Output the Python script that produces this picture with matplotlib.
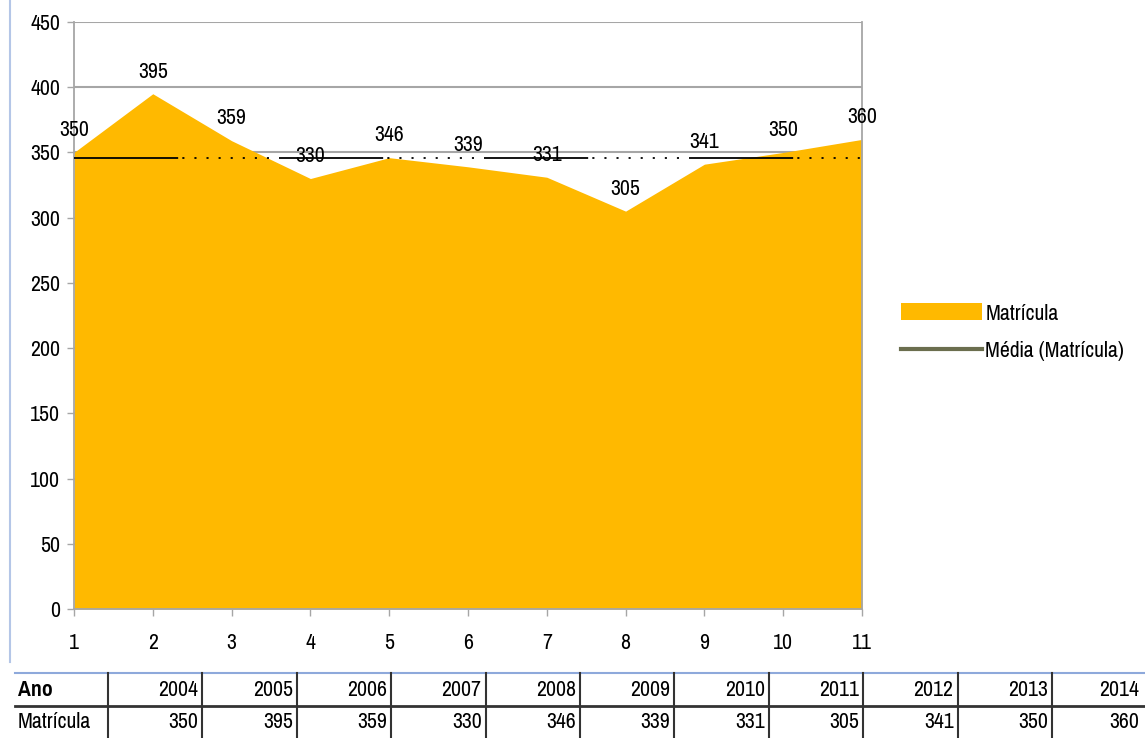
import numpy as np
import matplotlib
matplotlib.use("Agg")
import matplotlib.pyplot as plt
from matplotlib.lines import Line2D
from matplotlib.patches import Patch

plt.rcParams['font.family'] = ['Pragati Narrow', 'DejaVu Sans']
plt.rcParams['lines.scale_dashes'] = False

# data
pontos = [1, 2, 3, 4, 5, 6, 7, 8, 9, 10, 11]
anos = [2004, 2005, 2006, 2007, 2008, 2009, 2010, 2011, 2012, 2013, 2014]
matricula = [350, 395, 359, 330, 346, 339, 331, 305, 341, 350, 360]

media = np.mean(matricula)
laranja = '#FFB900'
cinza = '#A6A6A6'
fs = 17

W, H = 1145, 738
fig = plt.figure(figsize=(W / 100, H / 100), dpi=100)
ax = fig.add_axes([74 / W, 1 - 609 / H, (862 - 74) / W, (609 - 22) / H])

# area series
ax.fill_between(pontos, matricula, 0, color=laranja, lw=0, zorder=2)

# average line: long solid segment followed by a dotted stretch
padrao = [75, 3] + [1.5, 7.2] * 8
ax.plot([pontos[0], pontos[-1]], [media, media], color='black', lw=1.3,
        dashes=padrao, zorder=3)

# data labels
for x, v in zip(pontos, matricula):
    ax.annotate(str(v), (x, v), xytext=(0, 16), textcoords='offset points',
                ha='center', va='center', fontsize=fs, zorder=4)

ax.set_xlim(1, 11)
ax.set_ylim(0, 450)
ax.set_yticks(range(0, 451, 50))
ax.set_xticks(pontos)
ax.yaxis.grid(True, color=cinza, lw=1.5, zorder=1)
ax.set_axisbelow(True)
for s in ax.spines.values():
    s.set_color(cinza)
    s.set_linewidth(1.3)
ax.spines['top'].set_visible(False)
ax.tick_params(axis='both', colors=cinza, length=5, width=1, labelsize=fs,
               labelcolor='black')
ax.tick_params(axis='x', pad=12)
ax.tick_params(axis='y', pad=5)

# legend
handles = [Patch(facecolor=laranja, edgecolor='none'),
           Line2D([], [], color='#6B6E4E', lw=3)]
fig.legend(handles, ['Matrícula', 'Média (Matrícula)'],
           loc='center left', bbox_to_anchor=(892 / W, 1 - 332 / H),
           frameon=False, fontsize=fs, handlelength=3.4, handletextpad=0.15,
           handleheight=0.75, labelspacing=0.7, borderaxespad=0)

# data table underneath
def fx(x):
    return x / W

def fy(y):
    return 1 - y / H

fig.add_artist(Line2D([fx(10), fx(10)], [fy(0), fy(662)], color='#B4C6E7', lw=1.5))
fig.add_artist(Line2D([fx(15), fx(W)], [fy(673), fy(673)], color='#8EA9DB', lw=1.5))
fig.add_artist(Line2D([fx(15), fx(W)], [fy(706), fy(706)], color='#333333', lw=2))

col0 = 108
larg = 94.4
for k in range(len(anos) + 1):
    xl = col0 + larg * k
    if xl < W - 2:
        fig.add_artist(Line2D([fx(xl), fx(xl)], [fy(673), fy(H)], color='#333333', lw=1.5))

fig.text(fx(18), fy(690), 'Ano', fontsize=fs, fontweight='bold', va='center', ha='left')
fig.text(fx(18), fy(722), 'Matrícula', fontsize=fs, va='center', ha='left')
for k, (a, v) in enumerate(zip(anos, matricula)):
    xr = min(col0 + larg * (k + 1) - 4, W - 6)
    fig.text(fx(xr), fy(690), str(a), fontsize=fs, va='center', ha='right')
    fig.text(fx(xr), fy(722), str(v), fontsize=fs, va='center', ha='right')

fig.savefig('out.png', dpi=100)
